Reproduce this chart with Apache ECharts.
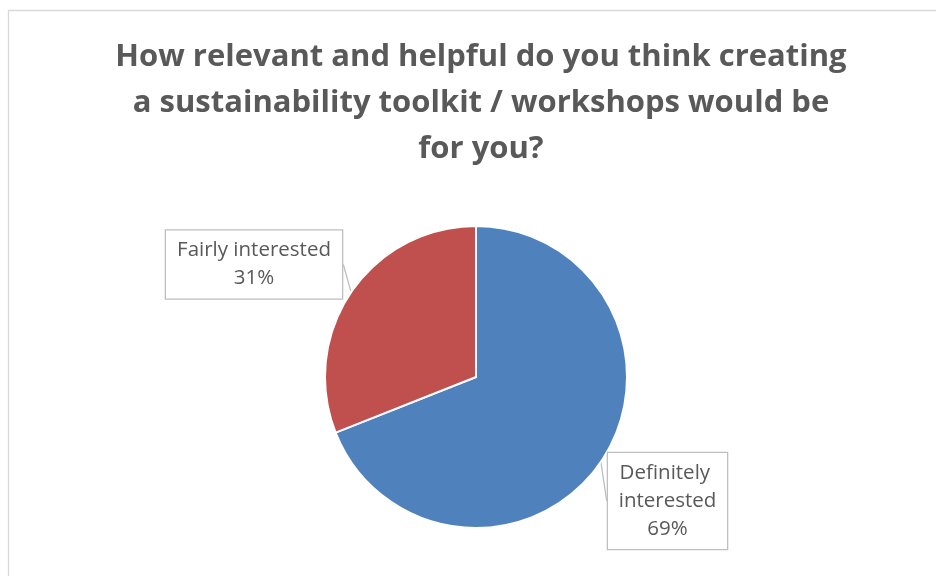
<!DOCTYPE html>
<html><head><meta charset="utf-8">
<script src="https://cdn.jsdelivr.net/npm/echarts@6/dist/echarts.min.js"></script>
<style>html,body{margin:0;padding:0;background:#fff}#c{width:936px;height:576px}</style>
</head><body><div id="c"></div>
<script>
var titleText = 'How relevant and helpful do you think creating\na sustainability toolkit / workshops would be\nfor you?';
var categories = ['Definitely interested', 'Fairly interested'];
var values = [69, 31];
var colors = ['#4F81BD', '#C0504D'];
var labelWidths = [101, 158];
var labelPos = [[667.5, 501], [254, 264.5]];

var chart = echarts.init(document.getElementById('c'));
chart.setOption({
  animation: false,
  graphic: [{
    type: 'rect', shape: {x: 8.5, y: 10.5, width: 1000, height: 1000},
    style: {fill: 'none', stroke: '#d9d9d9', lineWidth: 1.3}, silent: true, z: -1
  }],
  title: {
    text: titleText, left: 476, top: 29, textAlign: 'center',
    textStyle: {fontFamily: 'Open Sans', fontSize: 31, fontWeight: 'bold', color: '#595959', lineHeight: 46}
  },
  series: [{
    type: 'pie', center: [476, 377], radius: 151, startAngle: 90, clockwise: true,
    itemStyle: {borderColor: '#fff', borderWidth: 2},
    data: categories.map(function (c, i) {
      return {name: c, value: values[i], itemStyle: {color: colors[i]},
        label: {width: labelWidths[i]}};
    }),
    label: {
      show: true, formatter: '{b}\n{d}%', overflow: 'break',
      fontFamily: 'Open Sans', fontSize: 20.5, color: '#595959', lineHeight: 28, align: 'center',
      backgroundColor: '#fff', borderColor: '#bfbfbf', borderWidth: 1.3, padding: [8, 9, 4, 9]
    },
    labelLine: {show: true, length: 8, length2: 0, lineStyle: {color: '#bfbfbf', width: 1.3}},
    labelLayout: function (p) {
      var pos = labelPos[p.dataIndex];
      return {x: pos[0], y: pos[1], align: 'center', verticalAlign: 'middle'};
    }
  }]
});
</script></body></html>
